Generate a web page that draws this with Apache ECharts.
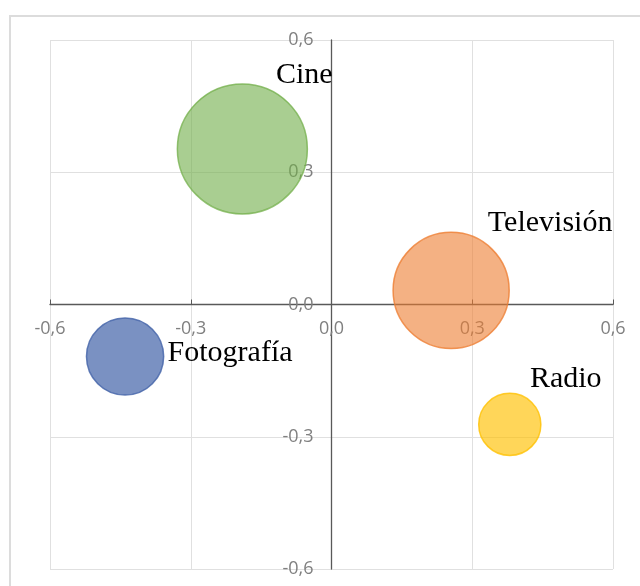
<!DOCTYPE html>
<html>
<head>
<meta charset="utf-8">
<script src="https://cdn.jsdelivr.net/npm/echarts@6/dist/echarts.min.js"></script>
<style>html,body{margin:0;padding:0;background:#fff;}#c{width:640px;height:586px;}</style>
</head>
<body>
<div id="c"></div>
<script>
// Data
const categories = ['Cine', 'Televisión', 'Radio', 'Fotografía'];
const xValues = [-0.19, 0.255, 0.38, -0.44];
const yValues = [0.353, 0.032, -0.272, -0.118];
const bubbleSizes = [42, 33.5, 9.6, 14.8];
const axisTicks = [-0.6, -0.3, 0, 0.3, 0.6];

// Styles (not data)
const fillColors = ['rgba(112,173,71,0.6)', 'rgba(237,125,49,0.6)', 'rgba(255,192,0,0.65)', 'rgba(65,98,168,0.7)'];
const borderColors = ['rgba(112,173,71,0.75)', 'rgba(237,125,49,0.8)', 'rgba(255,192,0,0.8)', 'rgba(65,98,168,0.8)'];
const labelOffsets = [[62, -74], [99, -67], [56, -45], [105, -3]];
const maxDiameter = 130;
const maxSize = Math.max(...bubbleSizes);

const W = 640, H = 586;
const gridBox = {left: 50, right: 27, top: 40, bottom: 17};
const gridW = W - gridBox.left - gridBox.right;
const gridH = H - gridBox.top - gridBox.bottom;

const chart = echarts.init(document.getElementById('c'), null, {renderer: 'canvas'});
const fmt = v => (Math.round(v * 10) / 10).toFixed(1).replace('.', ',');

const seriesData = categories.map((name, i) => ({
  name: name,
  value: [xValues[i], yValues[i], bubbleSizes[i]],
  itemStyle: {color: fillColors[i], borderColor: borderColors[i], borderWidth: 1.5, opacity: 1},
  label: {offset: labelOffsets[i]}
}));

const axisCommon = {
  type: 'value',
  min: axisTicks[0],
  max: axisTicks[axisTicks.length - 1],
  interval: 0.3,
  axisLine: {onZero: false, lineStyle: {color: '#595959', width: 1.3}},
  splitLine: {show: true, lineStyle: {color: '#e0e0e0', width: 1}},
  axisLabel: {formatter: fmt, color: '#808080', fontSize: 18, fontFamily: 'Open Sans'}
};

chart.setOption({
  backgroundColor: '#ffffff',
  animation: false,
  graphic: [{
    type: 'rect',
    shape: {x: 10, y: 16, width: 660, height: 600},
    style: {fill: 'none', stroke: '#dcdcdc', lineWidth: 2},
    z: -10
  }],
  grid: Object.assign({containLabel: false, outerBoundsMode: 'none'}, gridBox),
  xAxis: Object.assign({}, axisCommon, {
    position: 'bottom',
    offset: -gridH / 2,
    axisTick: {show: true, inside: true, length: 5, lineStyle: {color: '#595959'}},
    axisLabel: Object.assign({}, axisCommon.axisLabel, {margin: 15})
  }),
  yAxis: Object.assign({}, axisCommon, {
    position: 'left',
    offset: -gridW / 2,
    axisTick: {show: false},
    axisLabel: Object.assign({}, axisCommon.axisLabel, {margin: 18})
  }),
  series: [{
    type: 'scatter',
    data: seriesData,
    symbolSize: v => maxDiameter * Math.sqrt(v[2] / maxSize),
    label: {
      show: true,
      position: 'inside',
      formatter: p => p.name,
      color: '#000',
      fontSize: 30,
      fontFamily: 'Liberation Serif',
      align: 'center',
      verticalAlign: 'middle'
    },
    emphasis: {disabled: true}
  }]
});
</script>
</body>
</html>
